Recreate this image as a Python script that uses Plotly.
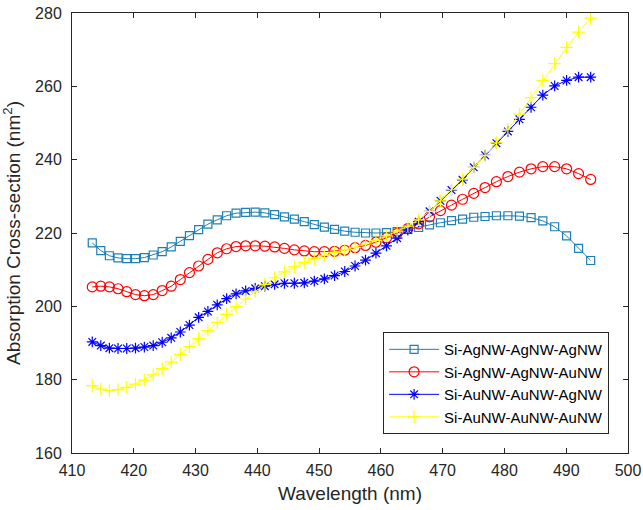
import plotly.graph_objects as go

wavelength = [413.28, 414.66, 416.05, 417.45, 418.86, 420.28, 421.71, 423.15, 424.60, 426.06,
              427.53, 429.01, 430.50, 432.00, 433.51, 435.03, 436.56, 438.11, 439.66, 441.22,
              442.80, 444.39, 445.99, 447.60, 449.22, 450.85, 452.50, 454.15, 455.82, 457.51,
              459.20, 460.91, 462.63, 464.36, 466.11, 467.87, 469.64, 471.43, 473.22, 475.03,
              476.86, 478.70, 480.56, 482.43, 484.31, 486.21, 488.13, 490.06, 492.00, 493.96]

ag_ag_ag = [217.3, 215.2, 213.8, 213.2, 213.0, 213.0, 213.3, 214.0, 214.9, 216.2,
            217.7, 219.3, 220.9, 222.4, 223.6, 224.7, 225.4, 225.6, 225.7, 225.5,
            225.0, 224.4, 223.8, 223.1, 222.3, 221.6, 221.0, 220.5, 220.2, 220.0,
            220.0, 220.1, 220.4, 221.0, 221.5, 222.2, 222.8, 223.4, 223.8, 224.3,
            224.5, 224.7, 224.7, 224.6, 224.2, 223.3, 221.7, 219.2, 215.8, 212.5]

ag_ag_au = [205.3, 205.5, 205.3, 204.8, 204.0, 203.2, 202.9, 203.2, 204.3, 205.5,
            207.3, 209.2, 211.0, 212.8, 214.6, 215.7, 216.3, 216.5, 216.5, 216.4,
            216.2, 215.8, 215.4, 215.1, 214.9, 214.9, 215.0, 215.3, 216.0, 216.6,
            217.5, 218.7, 219.9, 221.2, 222.5, 224.4, 226.1, 227.6, 229.2, 230.8,
            232.4, 234.0, 235.4, 236.6, 237.5, 238.1, 238.1, 237.5, 236.2, 234.6]

au_au_ag = [190.3, 189.3, 188.6, 188.5, 188.5, 188.6, 188.9, 189.3, 190.2, 191.4,
            193.0, 194.9, 197.0, 198.6, 200.4, 202.1, 203.4, 204.2, 204.9, 205.5,
            206.0, 206.3, 206.3, 206.4, 206.9, 207.5, 208.4, 209.5, 211.0, 212.6,
            214.5, 216.5, 218.6, 220.8, 223.1, 225.9, 228.8, 231.7, 234.5, 237.9,
            241.2, 244.5, 247.7, 251.0, 254.3, 257.6, 260.1, 261.6, 262.5, 262.5]

au_au_au = [178.4, 177.4, 177.0, 177.3, 177.9, 178.8, 179.9, 181.3, 183.0, 184.8,
            186.9, 189.0, 191.2, 193.4, 195.6, 197.8, 199.9, 202.0, 204.0, 206.0,
            207.8, 209.4, 210.8, 212.0, 213.0, 213.9, 214.7, 215.4, 216.1, 217.0,
            218.0, 219.2, 220.5, 221.9, 223.6, 225.9, 228.8, 231.8, 234.7, 237.9,
            241.1, 244.6, 248.3, 252.4, 256.9, 261.6, 266.2, 270.6, 274.8, 278.6]

series_names = ["Si-AgNW-AgNW-AgNW", "Si-AgNW-AgNW-AuNW",
                "Si-AuNW-AuNW-AgNW", "Si-AuNW-AuNW-AuNW"]
x_ticks = [410, 420, 430, 440, 450, 460, 470, 480, 490, 500]
y_ticks = [160, 180, 200, 220, 240, 260, 280]

styles = [
    ("#1f7fb4", "square-open", 8),
    ("#ff0000", "circle-open", 10),
    ("#0000ff", "asterisk-open", 9),
    ("#ffff00", "cross-thin-open", 9),
]

fig = go.Figure()
for name, ys, (col, sym, sz) in zip(series_names, [ag_ag_ag, ag_ag_au, au_au_ag, au_au_au], styles):
    fig.add_trace(go.Scatter(
        x=wavelength, y=ys, name=name, mode="lines+markers",
        line=dict(color=col, width=1),
        marker=dict(symbol=sym, size=sz, color=col, line=dict(color=col, width=1.2)),
    ))

axis_common = dict(
    showline=True, linecolor="#262626", linewidth=1, mirror="ticks",
    ticks="inside", ticklen=5, tickcolor="#262626", showgrid=False, zeroline=False,
    tickfont=dict(family="Liberation Sans, Arial, sans-serif", size=16, color="#262626"),
)

fig.update_layout(
    width=643, height=510,
    margin=dict(l=72, r=15, t=13, b=57, autoexpand=False),
    paper_bgcolor="white", plot_bgcolor="white",
    font=dict(family="Liberation Sans, Arial, sans-serif", color="#262626"),
    xaxis=dict(range=[410, 500], tickvals=x_ticks, ticklabelstandoff=3,
               title=dict(text="Wavelength (nm)", font=dict(size=19), standoff=8),
               automargin=False, **axis_common),
    yaxis=dict(range=[160, 280], tickvals=y_ticks, ticklabelstandoff=6,
               title=dict(text="Absorption Cross-section (nm<sup>2</sup>)", font=dict(size=19), standoff=9),
               automargin=False, **axis_common),
    legend=dict(x=0.966, y=0.043, xanchor="right", yanchor="bottom",
                bgcolor="white", bordercolor="#262626", borderwidth=1,
                font=dict(size=15, color="#000000"), tracegroupgap=0,
                itemwidth=50),
    showlegend=True,
)

fig.write_html("out.html", config={"displayModeBar": False},
               post_script="document.body.style.margin='0';document.body.style.overflow='hidden';")
